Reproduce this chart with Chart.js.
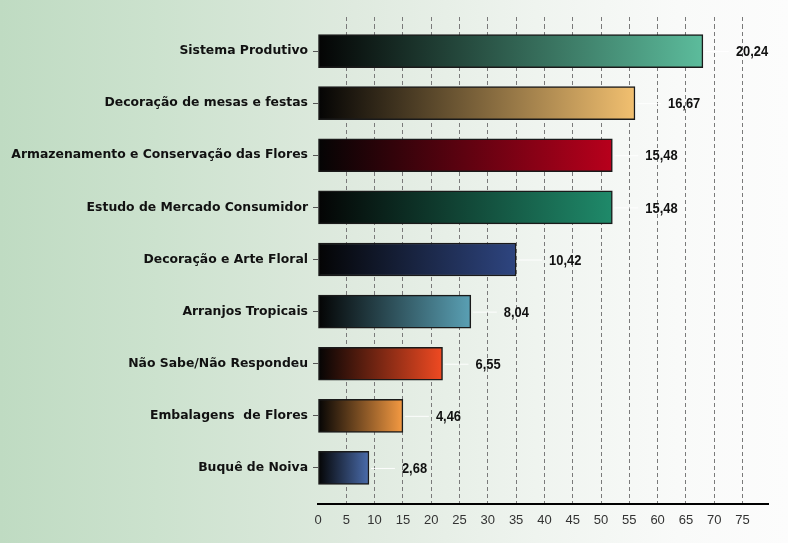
<!DOCTYPE html>
<html>
<head>
<meta charset="utf-8">
<script src="https://cdn.jsdelivr.net/npm/chart.js@4/dist/chart.umd.min.js"></script>
<style>
  html, body { margin: 0; padding: 0; }
  body {
    width: 788px; height: 543px; overflow: hidden;
    background: linear-gradient(to right, #bfdbc2 0%, #cce2ce 20%, #dfeadf 45%, #eff4ef 68%, #f9faf9 86%, #fcfcfc 100%);
  }
  #wrap { position: relative; width: 788px; height: 543px; }
</style>
</head>
<body>
<div id="wrap"><canvas id="c" width="788" height="543"></canvas></div>
<script>
const categories = [
  "Sistema Produtivo",
  "Decoração de mesas e festas",
  "Armazenamento e Conservação das Flores",
  "Estudo de Mercado Consumidor",
  "Decoração e Arte Floral",
  "Arranjos Tropicais",
  "Não Sabe/Não Respondeu",
  "Embalagens  de Flores",
  "Buquê de Noiva"
];
const counts = [68, 56, 52, 52, 35, 27, 22, 15, 9];
const percents = [20.24, 16.67, 15.48, 15.48, 10.42, 8.04, 6.55, 4.46, 2.68];
const barColors = ["#5cbc9c", "#f2c070", "#b8001c", "#1f8a6a", "#2e4580", "#5aa0b4", "#f04a22", "#f59a42", "#4a6cac"];
const xMax = 79.5;
const xStep = 5;

const gridCol = (c) => (c.tick && c.tick.value === 0) ? 'rgba(0,0,0,0)' : '#7a7a7a';

const valueLabels = {
  id: 'valueLabels',
  afterDatasetsDraw(chart) {
    const ctx = chart.ctx;
    const meta = chart.getDatasetMeta(0);
    meta.data.forEach((bar, i) => {
      const xEnd = bar.x;
      ctx.save();
      ctx.strokeStyle = 'rgba(255,255,255,0.9)';
      ctx.lineWidth = 1;
      ctx.beginPath();
      ctx.moveTo(xEnd + 2, bar.y + 0.5);
      ctx.lineTo(xEnd + 26, bar.y + 0.5);
      ctx.stroke();
      ctx.translate(xEnd + 33, bar.y + 1);
      ctx.scale(0.86, 1);
      ctx.fillStyle = '#111';
      ctx.font = 'bold 15px "Liberation Sans", Arial, sans-serif';
      ctx.textAlign = 'left';
      ctx.textBaseline = 'middle';
      ctx.fillText(percents[i].toFixed(2).replace('.', ','), 0, 0);
      ctx.restore();
    });
  }
};

new Chart(document.getElementById('c'), {
  type: 'bar',
  data: {
    labels: categories,
    datasets: [{
      data: counts,
      xAxisID: 'x',
      yAxisID: 'y',
      backgroundColor: (c) => {
        const chart = c.chart;
        const i = c.dataIndex;
        if (!chart.chartArea || c.type !== 'data') return barColors[i];
        const xs = chart.scales.x;
        const x0 = xs.getPixelForValue(0);
        const x1 = xs.getPixelForValue(counts[i]);
        const g = chart.ctx.createLinearGradient(x0, 0, x1, 0);
        g.addColorStop(0, '#040404');
        g.addColorStop(1, barColors[i]);
        return g;
      },
      borderColor: '#1a1a1a',
      borderWidth: 1.5,
      borderSkipped: false,
      barThickness: 33
    }]
  },
  options: {
    indexAxis: 'y',
    responsive: false,
    animation: false,
    layout: { padding: { top: 17, right: 20, bottom: 0, left: 0 } },
    plugins: { legend: { display: false }, tooltip: { enabled: false } },
    scales: {
      y: {
        type: 'category',
        position: 'left',
        offset: true,
        afterFit: (s) => { s.width = 318; },
        grid: { display: true, drawOnChartArea: false, drawTicks: true, tickLength: 5, offset: false, color: '#555', tickColor: '#555' },
        border: { display: false },
        ticks: { padding: 5, color: '#111', font: { family: '"DejaVu Sans", Verdana, sans-serif', weight: 'bold', size: 12.4 } }
      },
      x: {
        type: 'linear',
        position: 'bottom',
        min: 0, max: xMax,
        ticks: { display: false, stepSize: xStep, includeBounds: false },
        grid: { display: true, drawOnChartArea: true, drawTicks: true, tickLength: 10, color: gridCol, tickColor: gridCol, tickBorderDash: [4, 3], lineWidth: 1, tickWidth: 1 },
        border: { display: false, dash: [4, 3] }
      },
      x2: {
        type: 'linear',
        position: 'bottom',
        min: 0, max: xMax,
        afterFit: (s) => { s.height = 39; },
        ticks: { display: true, stepSize: xStep, includeBounds: false, padding: 9, color: '#333', font: { family: '"Liberation Sans", Arial, sans-serif', size: 13 } },
        grid: { display: false, drawTicks: false },
        border: { display: true, color: '#000', width: 2 }
      },
      xTop: {
        type: 'linear',
        position: 'top',
        min: 0, max: xMax,
        ticks: { display: false, stepSize: xStep, includeBounds: false },
        grid: { display: true, drawOnChartArea: false, drawTicks: true, tickLength: 8, color: gridCol, tickColor: gridCol, tickBorderDash: [4, 3], tickWidth: 1 },
        border: { display: false }
      }
    }
  },
  plugins: [valueLabels]
});
</script>
</body>
</html>
